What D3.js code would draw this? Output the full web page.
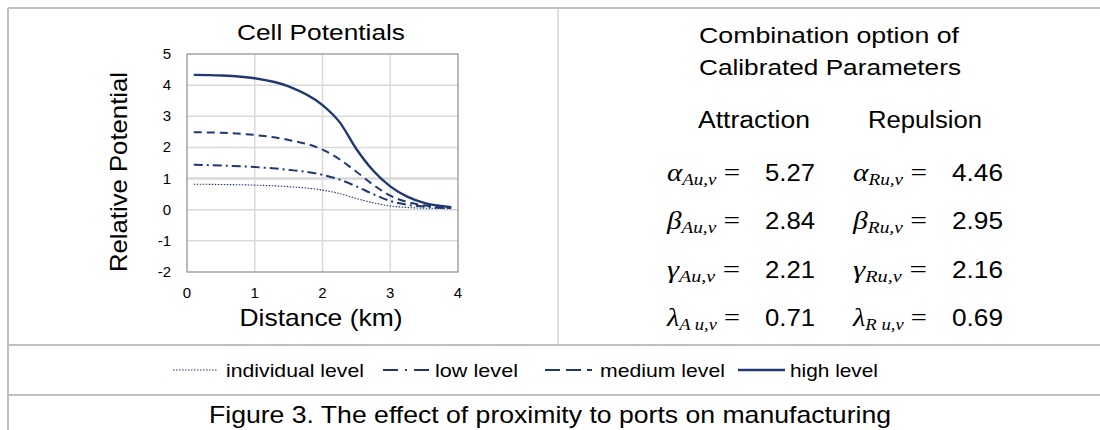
<!DOCTYPE html>
<html>
<head>
<meta charset="utf-8">
<script src="https://cdn.jsdelivr.net/npm/d3@7"></script>
<style>
  body { margin: 0; background: #fff; }
  text { font-family: "Liberation Sans", Arial, sans-serif; fill: #000; }
  .math { font-family: "Liberation Serif", "DejaVu Serif", serif; font-style: italic; }
</style>
</head>
<body>
<div id="chart"></div>
<script>
// DATA
// ------------------------------------------------------------------
var distance   = [0.1, 0.5, 1.0, 1.5, 2.0, 2.25, 2.5, 2.75, 3.0, 3.25, 3.5, 3.75, 3.9];
var individual = [0.82, 0.81, 0.79, 0.74, 0.63, 0.52, 0.36, 0.22, 0.12, 0.07, 0.05, 0.04, 0.03];
var low        = [1.44, 1.42, 1.37, 1.28, 1.12, 0.97, 0.75, 0.50, 0.28, 0.16, 0.10, 0.06, 0.05];
var medium     = [2.49, 2.47, 2.40, 2.24, 1.93, 1.62, 1.22, 0.80, 0.45, 0.25, 0.14, 0.08, 0.06];
var high       = [4.33, 4.31, 4.22, 3.96, 3.36, 2.82, 1.95, 1.25, 0.75, 0.42, 0.22, 0.12, 0.08];

var seriesNames = ["individual level", "low level", "medium level", "high level"];
var xTicks = [0, 1, 2, 3, 4];
var yTicks = [-2, -1, 0, 1, 2, 3, 4, 5];

var greek = ["\u03B1", "\u03B2", "\u03B3", "\u03BB"];
var attraction = ["5.27", "2.84", "2.21", "0.71"];
var repulsion  = ["4.46", "2.95", "2.16", "0.69"];

// CANVAS
// ------------------------------------------------------------------
var width = 1100,
    height = 430,
    navy = "#1f3872",
    frame = "#c0c0c0";

var svg = d3.select("#chart")
    .append("svg")
    .attr("width", width)
    .attr("height", height);

// stretched text helper: the reference text runs a little wide
function addText(x, y, str, size, len, anchor) {
  var t = svg.append("text")
      .attr("x", x).attr("y", y)
      .attr("text-anchor", anchor || "middle")
      .style("font-size", size + "px")
      .text(str);
  if (len) t.attr("textLength", len).attr("lengthAdjust", "spacingAndGlyphs");
  return t;
}

// outer table lines
svg.append("line").attr("x1", 8).attr("x2", width).attr("y1", 8).attr("y2", 8)
    .attr("stroke", frame).attr("stroke-width", 2);
svg.append("line").attr("x1", 8).attr("x2", 8).attr("y1", 8).attr("y2", height)
    .attr("stroke", frame).attr("stroke-width", 2);
svg.append("line").attr("x1", 558).attr("x2", 558).attr("y1", 8).attr("y2", 345)
    .attr("stroke", frame).attr("stroke-width", 1);
svg.append("line").attr("x1", 8).attr("x2", width).attr("y1", 345).attr("y2", 345)
    .attr("stroke", frame).attr("stroke-width", 2);
svg.append("line").attr("x1", 8).attr("x2", width).attr("y1", 395).attr("y2", 395)
    .attr("stroke", frame).attr("stroke-width", 2);

// AXES
// ------------------------------------------------------------------
var xScale = d3.scaleLinear().domain([0, 4]).range([187, 458]),
    yScale = d3.scaleLinear().domain([-2, 5]).range([272, 54]);

var plot = svg.append("g");

// grid
plot.selectAll(".vgrid")
    .data(xTicks.slice(1, -1))
    .enter().append("line")
    .attr("x1", function(d) { return xScale(d); })
    .attr("x2", function(d) { return xScale(d); })
    .attr("y1", yScale(5)).attr("y2", yScale(-2))
    .attr("stroke", "#d9d9d9").attr("stroke-width", 1.5);

plot.selectAll(".hgrid")
    .data(yTicks.slice(1, -1))
    .enter().append("line")
    .attr("x1", xScale(0)).attr("x2", xScale(4))
    .attr("y1", function(d) { return yScale(d); })
    .attr("y2", function(d) { return yScale(d); })
    .attr("stroke", "#d9d9d9").attr("stroke-width", function(d) { return d === 1 ? 2.5 : 1.5; });

// plot frame
plot.append("rect")
    .attr("x", xScale(0)).attr("y", yScale(5))
    .attr("width", xScale(4) - xScale(0))
    .attr("height", yScale(-2) - yScale(5))
    .attr("fill", "none").attr("stroke", "#8c8c8c").attr("stroke-width", 1.2);

// tick labels
plot.selectAll(".ylab")
    .data(yTicks)
    .enter().append("text")
    .attr("x", 171)
    .attr("y", function(d) { return yScale(d) + 5; })
    .attr("text-anchor", "end")
    .style("font-size", "15px")
    .text(function(d) { return d; });

plot.selectAll(".xlab")
    .data(xTicks)
    .enter().append("text")
    .attr("x", function(d) { return xScale(d); })
    .attr("y", 298)
    .attr("text-anchor", "middle")
    .style("font-size", "15px")
    .text(function(d) { return d; });

addText(321, 40, "Cell Potentials", 22, 168);
addText(321, 326, "Distance (km)", 24, 163);
addText(0, 0, "Relative Potential", 24, 200)
    .attr("transform", "translate(127,172) rotate(-90)");

// PATHS
// ------------------------------------------------------------------
var styles = [
  { values: individual, width: 1.1, dash: "1.5,1.5" },
  { values: low,        width: 2,   dash: "9,4,2,4" },
  { values: medium,     width: 2,   dash: "8,5" },
  { values: high,       width: 2.4, dash: null }
];

var lineFunction = d3.line()
    .x(function(d) { return xScale(d[0]); })
    .y(function(d) { return yScale(d[1]); })
    .curve(d3.curveMonotoneX);

styles.forEach(function(s) {
  plot.append("path")
      .attr("d", lineFunction(d3.zip(distance, s.values)))
      .attr("fill", "none")
      .attr("stroke", navy)
      .attr("stroke-width", s.width)
      .attr("stroke-dasharray", s.dash);
});

// LEGEND
// ------------------------------------------------------------------
var legendX  = [173, 383, 545, 738],
    legendW  = [44, 47, 47, 47],
    legendTx = [226, 435, 600, 790],
    legendTw = [138, 83, 125, 88],
    legendDash = ["1.5,1.5", "15,7,2,7", "15,6", null];

styles.forEach(function(s, i) {
  svg.append("line")
      .attr("x1", legendX[i]).attr("x2", legendX[i] + legendW[i])
      .attr("y1", 370).attr("y2", 370)
      .attr("stroke", navy)
      .attr("stroke-width", s.width)
      .attr("stroke-dasharray", legendDash[i]);
  addText(legendTx[i], 377, seriesNames[i], 19, legendTw[i], "start");
});

// CAPTION
// ------------------------------------------------------------------
addText(550, 423, "Figure 3. The effect of proximity to ports on manufacturing", 24, 682);

// PARAMETERS
// ------------------------------------------------------------------
addText(829, 43, "Combination option of", 22, 260);
addText(830, 75, "Calibrated Parameters", 22, 262);
addText(754, 128, "Attraction", 23, 112);
addText(925, 128, "Repulsion", 23, 114);

function paramLabel(x, y, g, sub, len) {
  var t = svg.append("text")
      .attr("class", "math")
      .attr("x", x).attr("y", y)
      .attr("text-anchor", "end")
      .attr("textLength", len)
      .attr("lengthAdjust", "spacingAndGlyphs")
      .style("font-size", "26px");
  t.append("tspan").text(g);
  t.append("tspan").attr("dy", 4).style("font-size", "17px").text(sub);
  t.append("tspan").attr("dy", -4).style("font-style", "normal").text(" =");
}

greek.forEach(function(g, i) {
  var y = 181 + i * 48.3;
  var subA = g === "\u03BB" ? "A u,v" : "Au,v",
      subR = g === "\u03BB" ? "R u,v" : "Ru,v";
  paramLabel(740, y, g, subA, 73);
  paramLabel(927, y, g, subR, 74);
  addText(765, y, attraction[i], 24, 50, "start");
  addText(952, y, repulsion[i], 24, 51, "start");
});
</script>
</body>
</html>
